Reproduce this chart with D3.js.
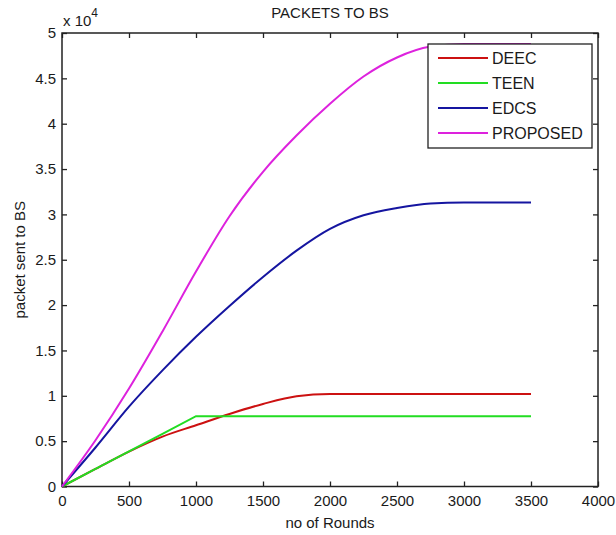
<!DOCTYPE html>
<html>
<head>
<meta charset="utf-8">
<script src="https://cdn.jsdelivr.net/npm/d3@7"></script>
<style>
  body { margin: 0; background: #fff; }
  text { font-family: "Liberation Sans", Arial, sans-serif; fill: #1a1a1a; }
</style>
</head>
<body>
<script>
// rounds sampled along the x axis
const rounds = [0, 250, 500, 750, 1000, 1250, 1500, 1750, 2000, 2250, 2500, 2750, 3000, 3250, 3500];

// packets sent to BS
const deec     = [0, 1940, 3850, 5500, 6750, 8000, 9100, 9950, 10200, 10200, 10200, 10200, 10200, 10200, 10200];
const teen     = [0, 1940, 3880, 5810, 7750, 7750, 7750, 7750, 7750, 7750, 7750, 7750, 7750, 7750, 7750];
const edcs     = [0, 4300, 8800, 12800, 16500, 19900, 23100, 26000, 28400, 29900, 30700, 31200, 31300, 31300, 31300];
const proposed = [0, 5100, 10800, 17100, 23700, 29800, 34700, 38700, 42200, 45200, 47300, 48500, 48800, 48800, 48800];

const seriesNames = ["DEEC", "TEEN", "EDCS", "PROPOSED"];
const seriesColors = ["#cc1111", "#22dd22", "#1515a0", "#dd22dd"];

const xTicks = [0, 500, 1000, 1500, 2000, 2500, 3000, 3500, 4000];
const yTicks = [0, 5000, 10000, 15000, 20000, 25000, 30000, 35000, 40000, 45000, 50000];

const W = 616, H = 535;
const margin = { top: 33, right: 18, bottom: 48.5, left: 62 };

const svg = d3.select("body").append("svg")
    .attr("width", W)
    .attr("height", H);

const x = d3.scaleLinear().domain([0, 4000]).range([margin.left, W - margin.right]);
const y = d3.scaleLinear().domain([0, 50000]).range([H - margin.bottom, margin.top]);

// axes with inward ticks, MATLAB style
svg.append("g")
    .attr("transform", `translate(0,${y(0)})`)
    .call(d3.axisBottom(x).tickValues(xTicks).tickSizeInner(-5).tickSizeOuter(0).tickPadding(9)
        .tickFormat(d3.format("d")));
svg.append("g")
    .attr("transform", `translate(0,${y(50000)})`)
    .call(d3.axisTop(x).tickValues(xTicks).tickSizeInner(-5).tickSizeOuter(0).tickFormat(""));
svg.append("g")
    .attr("transform", `translate(${x(0)},0)`)
    .call(d3.axisLeft(y).tickValues(yTicks).tickSizeInner(-5).tickSizeOuter(0).tickPadding(6)
        .tickFormat(d => d / 1e4));
svg.append("g")
    .attr("transform", `translate(${x(4000)},0)`)
    .call(d3.axisRight(y).tickValues(yTicks).tickSizeInner(-5).tickSizeOuter(0).tickFormat(""));

svg.selectAll(".domain").remove();
svg.selectAll(".tick line").attr("stroke", "#222").attr("stroke-width", 1.3);
svg.selectAll(".tick text").style("font-size", "15px").attr("fill", "#1a1a1a");

// frame
svg.append("rect")
    .attr("x", x(0))
    .attr("y", y(50000))
    .attr("width", x(4000) - x(0))
    .attr("height", y(0) - y(50000))
    .attr("fill", "none")
    .attr("stroke", "#222")
    .attr("stroke-width", 1.5);

// series lines
const allSeries = [deec, teen, edcs, proposed];
allSeries.forEach((vals, i) => {
    const line = d3.line()
        .x((d, j) => x(rounds[j]))
        .y(d => y(d))
        .curve(i === 1 ? d3.curveLinear : d3.curveMonotoneX);
    svg.append("path")
        .datum(vals)
        .attr("fill", "none")
        .attr("stroke", seriesColors[i])
        .attr("stroke-width", 2)
        .attr("d", line);
});

// exponent label
const expo = svg.append("text")
    .attr("x", 63)
    .attr("y", 26)
    .style("font-size", "15px");
expo.append("tspan").text("x 10");
expo.append("tspan").attr("dy", -9).style("font-size", "12px").text("4");

// title and axis labels
svg.append("text")
    .attr("x", (x(0) + x(4000)) / 2)
    .attr("y", 18)
    .attr("text-anchor", "middle")
    .style("font-size", "15px")
    .text("PACKETS TO BS");

svg.append("text")
    .attr("x", (x(0) + x(4000)) / 2)
    .attr("y", 528)
    .attr("text-anchor", "middle")
    .style("font-size", "15px")
    .text("no of Rounds");

svg.append("text")
    .attr("transform", `translate(25,${(y(0) + y(50000)) / 2}) rotate(-90)`)
    .attr("text-anchor", "middle")
    .style("font-size", "15px")
    .text("packet sent to BS");

// legend
const legend = svg.append("g").attr("transform", "translate(428,44)");
legend.append("rect")
    .attr("width", 164)
    .attr("height", 104)
    .attr("fill", "#fff")
    .attr("stroke", "#222")
    .attr("stroke-width", 1.3);

seriesNames.forEach((name, i) => {
    const ly = 14 + i * 25;
    legend.append("line")
        .attr("x1", 10)
        .attr("x2", 60)
        .attr("y1", ly)
        .attr("y2", ly)
        .attr("stroke", seriesColors[i])
        .attr("stroke-width", 2);
    legend.append("text")
        .attr("x", 64)
        .attr("y", ly)
        .attr("dy", "0.36em")
        .style("font-size", "16px")
        .text(name);
});
</script>
</body>
</html>
